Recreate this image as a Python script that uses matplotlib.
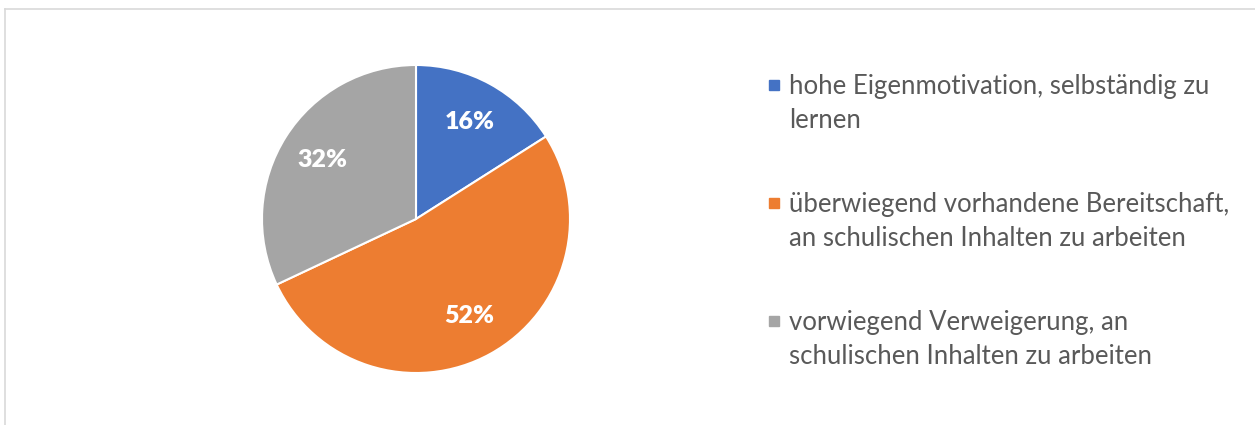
import matplotlib
matplotlib.use("Agg")
import matplotlib.pyplot as plt
from matplotlib.lines import Line2D
from matplotlib.patches import Rectangle

# data
labels = ["hohe Eigenmotivation, selbständig zu\nlernen",
          "überwiegend vorhandene Bereitschaft,\nan schulischen Inhalten zu arbeiten",
          "vorwiegend Verweigerung, an\nschulischen Inhalten zu arbeiten"]
shares = [16, 52, 32]
colors = ["#4472c4", "#ed7d31", "#a5a5a5"]

W, H = 1255, 425
fig = plt.figure(figsize=(W / 100, H / 100), dpi=100)
plt.rcParams['font.family'] = ['Lato', 'DejaVu Sans']

# pie axes: center (416, 219), radius 154 px
cx, cy, r = 416, 219, 154
ax = fig.add_axes([(cx - r) / W, 1 - (cy + r) / H, 2 * r / W, 2 * r / H])
wedges, texts, autotexts = ax.pie(
    shares, colors=colors, startangle=90, counterclock=False,
    autopct=lambda p: f"{p:.0f}%", pctdistance=0.72, radius=1,
    wedgeprops=dict(edgecolor="white", linewidth=1.5),
    textprops=dict(color="white", fontsize=18, fontweight="heavy"))
ax.set_xlim(-1, 1)
ax.set_ylim(-1, 1)
ax.set_aspect("equal")
ax.axis("off")

# legend drawn by hand so the marker sits on the first line
x_mark, x_text = 769, 789
y0, step = 85, 118
for i, (lbl, col) in enumerate(zip(labels, colors)):
    y = y0 + i * step
    fig.add_artist(Rectangle((x_mark / W, 1 - (y + 5) / H), 10 / W, 10 / H,
                             transform=fig.transFigure, color=col))
    fig.text(x_text / W, 1 - (y - 11) / H, lbl, va="top", ha="left",
             fontsize=18.5, color="#595959", linespacing=1.47)

# chart frame (clipped on right and bottom)
fig.add_artist(Line2D([4.5 / W, 1], [1 - 8.5 / H] * 2, transform=fig.transFigure,
                      color="#d9d9d9", lw=1.2))
fig.add_artist(Line2D([4.5 / W] * 2, [0, 1 - 8.5 / H], transform=fig.transFigure,
                      color="#d9d9d9", lw=1.2))

fig.savefig("out.png", dpi=100, facecolor="white")
